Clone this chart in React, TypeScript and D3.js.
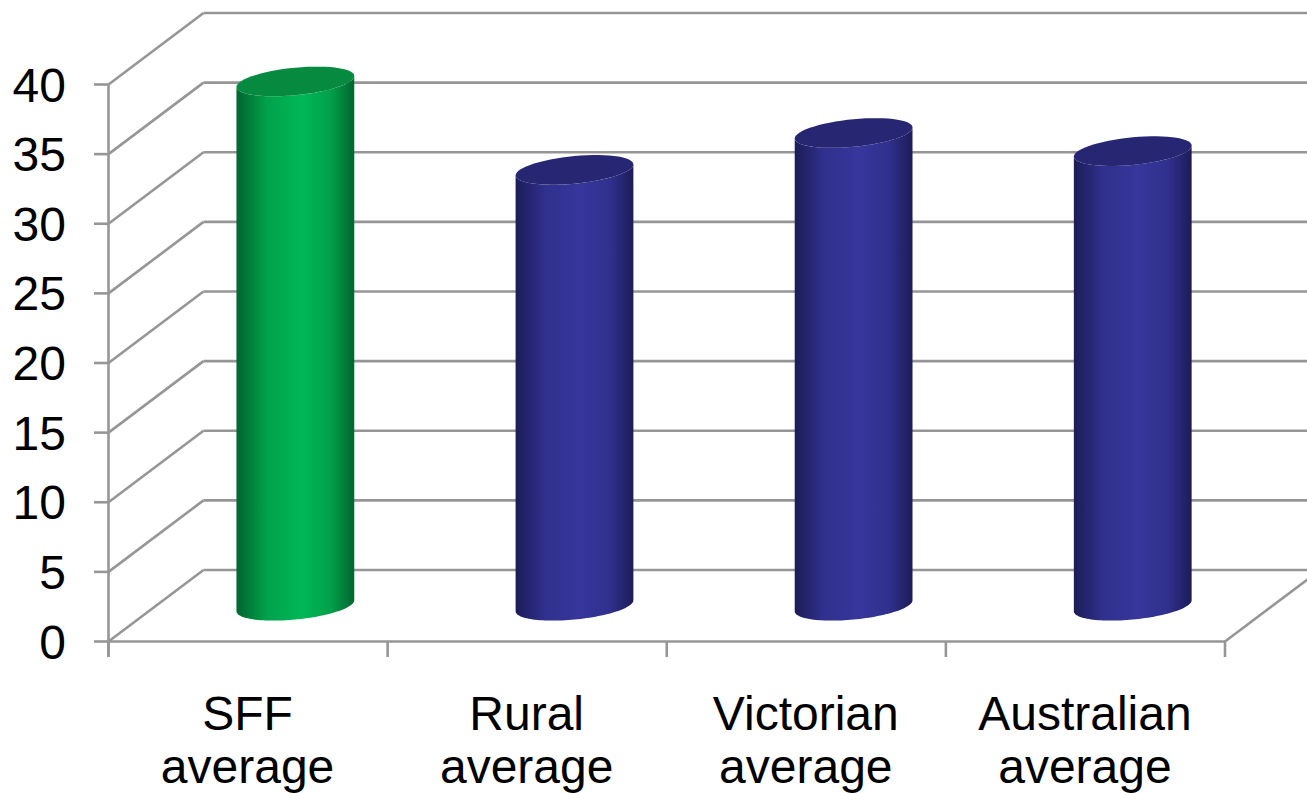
import React from "react";
import * as d3 from "d3";

const categories = [["SFF", "average"], ["Rural", "average"], ["Victorian", "average"], ["Australian", "average"]];
const values = [37.65, 31.3, 33.95, 32.65];
const barThemes = ["green", "blue", "blue", "blue"];
const yTicks = [0, 5, 10, 15, 20, 25, 30, 35, 40];

const width = 1307;
const height = 793;
const depthX = 95;
const depthY = 71.5;
const gridColor = "#969696";
const font = "'Liberation Sans', Arial, sans-serif";

// Front plane of the 3D box.
const x = d3.scaleBand<number>().domain(d3.range(categories.length)).range([108.5, 1225]);
const y = d3.scaleLinear().domain([0, 40]).range([641.5, 84.5]);

const themes: Record<string, { edge: string; mid: string; light: string; top: string }> = {
  green: { edge: "#00652f", mid: "#00a04a", light: "#00b858", top: "#058a3f" },
  blue: { edge: "#1c1c58", mid: "#30308e", light: "#36369c", top: "#262672" },
};

const barHalfWidth = 58.9;
const ellipseTilt = 5.5;
const ellipseMinor = 13.8;

// Sheared ellipse as a pair of arcs sampled along its parameter.
const rim = (cx: number, cy: number, from: number, to: number) =>
  d3.range(0, 61).map((i) => {
    const t = from + ((to - from) * i) / 60;
    return [
      cx + barHalfWidth * Math.cos(t),
      cy - ellipseTilt * Math.cos(t) + ellipseMinor * Math.sin(t),
    ] as [number, number];
  });

const line = d3.line();

function Cylinder({ index }: { index: number }) {
  const theme = barThemes[index];
  const cx = x(index)! + x.bandwidth() / 2 + depthX / 2 - 0.2;
  const base = y(0) - depthY / 2;
  const top = y(values[index]) - depthY / 2;
  // Side wall: top rim (near half) reversed into the bottom rim's near half.
  const topNear = rim(cx, top, Math.PI, 0);
  const bottomNear = rim(cx, base, 0, Math.PI);
  const side = line([...topNear, ...bottomNear])! + "Z";
  const cap = line(rim(cx, top, 0, 2 * Math.PI))! + "Z";
  return (
    <g>
      <path d={side} fill={`url(#shade-${theme})`} />
      <path d={cap} fill={themes[theme].top} />
    </g>
  );
}

export default function App() {
  const seg = (x1: number, y1: number, x2: number, y2: number, key: string) => (
    <line key={key} x1={x1} y1={y1} x2={x2} y2={y2} stroke={gridColor} strokeWidth={2.6} />
  );
  const left = x.range()[0];
  const right = x.range()[1];
  const xEdges = d3.range(categories.length + 1).map((i) => left + i * x.step());

  return (
    <svg
      width={width}
      height={height}
      viewBox={`0 0 ${width} ${height}`}
      style={{ position: "absolute", left: 0, top: 0, display: "block" }}
    >
      <defs>
        {Object.entries(themes).map(([name, c]) => (
          <linearGradient key={name} id={`shade-${name}`} x1="0" x2="1" y1="0" y2="0">
            <stop offset="0" stopColor={c.edge} />
            <stop offset="0.25" stopColor={c.mid} />
            <stop offset="0.55" stopColor={c.light} />
            <stop offset="0.8" stopColor={c.mid} />
            <stop offset="1" stopColor={c.edge} />
          </linearGradient>
        ))}
      </defs>
      <rect width={width} height={height} fill="#fff" />

      {/* Gridlines running along the side wall and back wall */}
      {yTicks.map((t) => (
        <g key={t}>
          {seg(left, y(t), left + depthX, y(t) - depthY, `s${t}`)}
          {seg(left + depthX, y(t) - depthY, width, y(t) - depthY, `b${t}`)}
          {seg(94, y(t), left, y(t), `t${t}`)}
          <text
            x={66}
            y={y(t) + 17}
            textAnchor="end"
            fontFamily={font}
            fontSize={48}
            fill="#000"
          >
            {t}
          </text>
        </g>
      ))}

      {/* Front axes and the floor's right edge */}
      {seg(left, y(40), left, 657, "axis-y")}
      {seg(left, y(0), right, y(0), "axis-x")}
      {seg(right, y(0), right + depthX, y(0) - depthY, "floor")}
      {xEdges.map((e, i) => seg(e, y(0), e, 657, `x${i}`))}

      {values.map((_, i) => (
        <Cylinder key={i} index={i} />
      ))}

      {categories.map((lines, i) => (
        <text
          key={i}
          textAnchor="middle"
          fontFamily={font}
          fontSize={48}
          fill="#000"
        >
          {lines.map((l, j) => (
            <tspan key={j} x={x(i)! + x.bandwidth() / 2 - 0.5} y={729.5 + j * 53}>
              {l}
            </tspan>
          ))}
        </text>
      ))}
    </svg>
  );
}
